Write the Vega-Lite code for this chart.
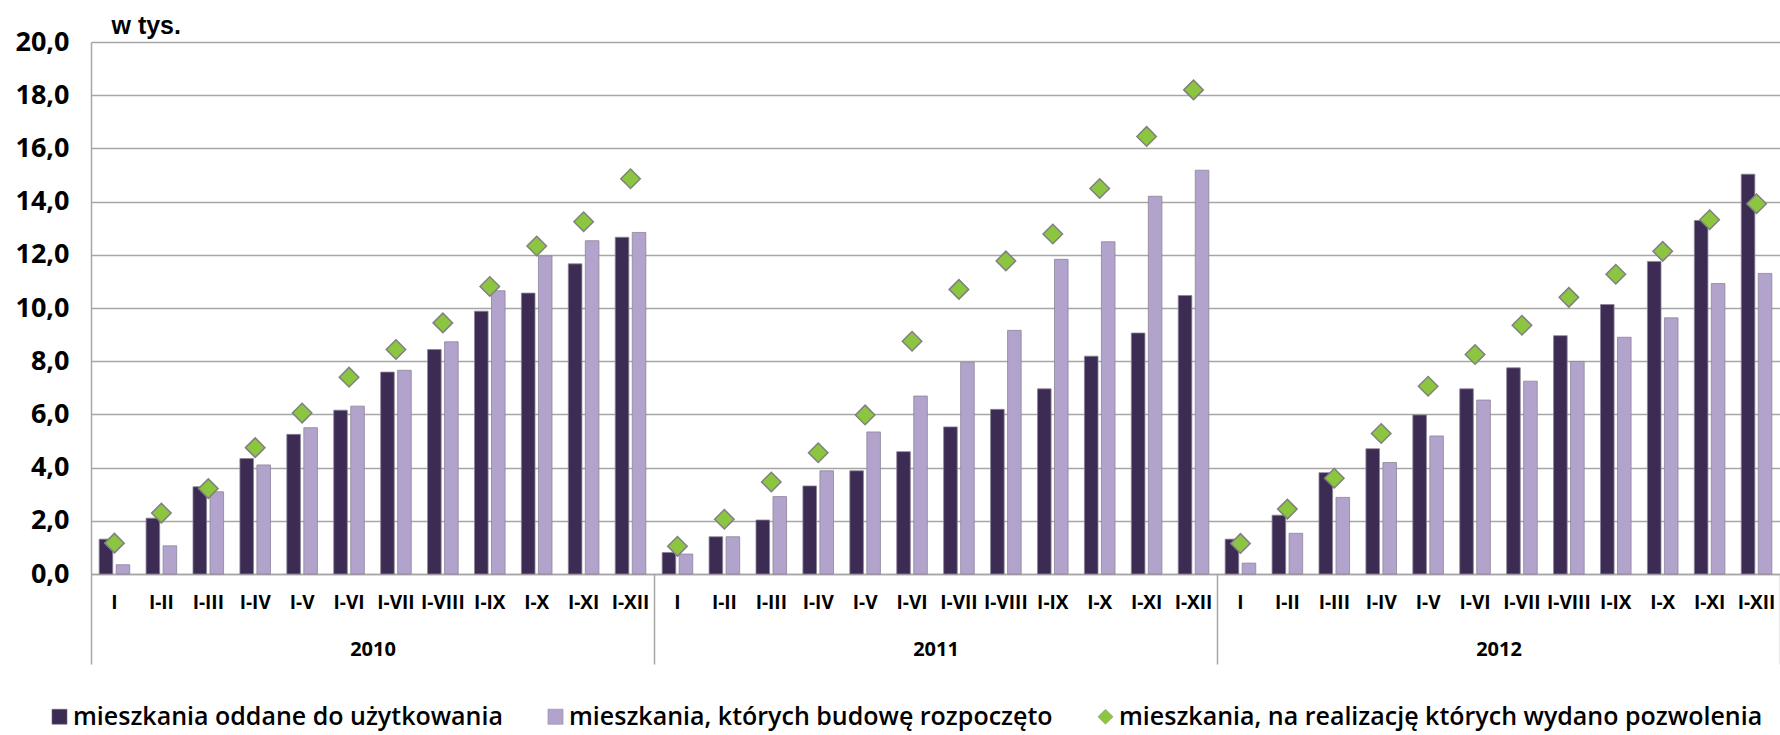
{
  "$schema": "https://vega.github.io/schema/vega-lite/v6.json",
  "width": 1689,
  "height": 532,
  "autosize": {"type": "none"},
  "padding": {"left": 91, "top": 42, "right": 0, "bottom": 161},
  "background": "white",
  "config": {"view": {"stroke": null}, "font": "Open Sans"},
  "datasets": {
    "main": [
      {"rok": "2010", "okres": "2010 I", "oddane": 1.31, "rozpoczete": 0.35, "pozwolenia": 1.16},
      {"rok": "2010", "okres": "2010 I-II", "oddane": 2.10, "rozpoczete": 1.06, "pozwolenia": 2.29},
      {"rok": "2010", "okres": "2010 I-III", "oddane": 3.28, "rozpoczete": 3.09, "pozwolenia": 3.21},
      {"rok": "2010", "okres": "2010 I-IV", "oddane": 4.34, "rozpoczete": 4.10, "pozwolenia": 4.75},
      {"rok": "2010", "okres": "2010 I-V", "oddane": 5.25, "rozpoczete": 5.50, "pozwolenia": 6.05},
      {"rok": "2010", "okres": "2010 I-VI", "oddane": 6.16, "rozpoczete": 6.31, "pozwolenia": 7.40},
      {"rok": "2010", "okres": "2010 I-VII", "oddane": 7.59, "rozpoczete": 7.66, "pozwolenia": 8.44},
      {"rok": "2010", "okres": "2010 I-VIII", "oddane": 8.44, "rozpoczete": 8.73, "pozwolenia": 9.44},
      {"rok": "2010", "okres": "2010 I-IX", "oddane": 9.88, "rozpoczete": 10.65, "pozwolenia": 10.81},
      {"rok": "2010", "okres": "2010 I-X", "oddane": 10.56, "rozpoczete": 11.96, "pozwolenia": 12.33},
      {"rok": "2010", "okres": "2010 I-XI", "oddane": 11.66, "rozpoczete": 12.53, "pozwolenia": 13.24},
      {"rok": "2010", "okres": "2010 I-XII", "oddane": 12.66, "rozpoczete": 12.84, "pozwolenia": 14.86},
      {"rok": "2011", "okres": "2011 I", "oddane": 0.81, "rozpoczete": 0.75, "pozwolenia": 1.04},
      {"rok": "2011", "okres": "2011 I-II", "oddane": 1.40, "rozpoczete": 1.40, "pozwolenia": 2.06},
      {"rok": "2011", "okres": "2011 I-III", "oddane": 2.03, "rozpoczete": 2.91, "pozwolenia": 3.46},
      {"rok": "2011", "okres": "2011 I-IV", "oddane": 3.31, "rozpoczete": 3.88, "pozwolenia": 4.56},
      {"rok": "2011", "okres": "2011 I-V", "oddane": 3.88, "rozpoczete": 5.34, "pozwolenia": 5.98},
      {"rok": "2011", "okres": "2011 I-VI", "oddane": 4.60, "rozpoczete": 6.69, "pozwolenia": 8.75},
      {"rok": "2011", "okres": "2011 I-VII", "oddane": 5.53, "rozpoczete": 7.96, "pozwolenia": 10.70},
      {"rok": "2011", "okres": "2011 I-VIII", "oddane": 6.19, "rozpoczete": 9.16, "pozwolenia": 11.77},
      {"rok": "2011", "okres": "2011 I-IX", "oddane": 6.96, "rozpoczete": 11.83, "pozwolenia": 12.78},
      {"rok": "2011", "okres": "2011 I-X", "oddane": 8.19, "rozpoczete": 12.49, "pozwolenia": 14.49},
      {"rok": "2011", "okres": "2011 I-XI", "oddane": 9.06, "rozpoczete": 14.20, "pozwolenia": 16.45},
      {"rok": "2011", "okres": "2011 I-XII", "oddane": 10.47, "rozpoczete": 15.18, "pozwolenia": 18.20},
      {"rok": "2012", "okres": "2012 I", "oddane": 1.31, "rozpoczete": 0.41, "pozwolenia": 1.15},
      {"rok": "2012", "okres": "2012 I-II", "oddane": 2.21, "rozpoczete": 1.53, "pozwolenia": 2.44},
      {"rok": "2012", "okres": "2012 I-III", "oddane": 3.81, "rozpoczete": 2.88, "pozwolenia": 3.60},
      {"rok": "2012", "okres": "2012 I-IV", "oddane": 4.71, "rozpoczete": 4.19, "pozwolenia": 5.28},
      {"rok": "2012", "okres": "2012 I-V", "oddane": 5.98, "rozpoczete": 5.19, "pozwolenia": 7.06},
      {"rok": "2012", "okres": "2012 I-VI", "oddane": 6.96, "rozpoczete": 6.54, "pozwolenia": 8.25},
      {"rok": "2012", "okres": "2012 I-VII", "oddane": 7.75, "rozpoczete": 7.25, "pozwolenia": 9.35},
      {"rok": "2012", "okres": "2012 I-VIII", "oddane": 8.96, "rozpoczete": 7.99, "pozwolenia": 10.40},
      {"rok": "2012", "okres": "2012 I-IX", "oddane": 10.13, "rozpoczete": 8.90, "pozwolenia": 11.27},
      {"rok": "2012", "okres": "2012 I-X", "oddane": 11.75, "rozpoczete": 9.63, "pozwolenia": 12.13},
      {"rok": "2012", "okres": "2012 I-XI", "oddane": 13.29, "rozpoczete": 10.92, "pozwolenia": 13.32},
      {"rok": "2012", "okres": "2012 I-XII", "oddane": 15.03, "rozpoczete": 11.30, "pozwolenia": 13.92}
    ],
    "years": [{"rok": "2010"}, {"rok": "2011"}, {"rok": "2012"}]
  },
  "layer": [
    {
      "data": {"name": "main"},
      "transform": [{"fold": ["oddane", "rozpoczete", "pozwolenia"], "as": ["seria", "wartosc"]}],
      "encoding": {
        "x": {
          "field": "okres",
          "type": "nominal",
          "sort": null,
          "scale": {"paddingInner": 0, "paddingOuter": 0},
          "axis": {
            "title": null,
            "labelExpr": "split(datum.value, ' ')[1]",
            "labelAngle": 0,
            "ticks": false,
            "domain": true,
            "domainColor": "#A6A6A6",
            "domainWidth": 1.5,
            "labelPadding": 19,
            "labelFont": "Open Sans",
            "labelFontSize": 19,
            "labelFontWeight": "bold",
            "labelColor": "#000000",
            "labelOverlap": false,
            "grid": false
          }
        },
        "y": {
          "field": "wartosc",
          "type": "quantitative",
          "scale": {"domain": [0, 20], "nice": false},
          "axis": {
            "title": "w tys.",
            "titleAngle": 0,
            "titleX": 20,
            "titleY": -17,
            "titleAlign": "left",
            "titleBaseline": "middle",
            "titleFont": "Liberation Sans",
            "titleFontSize": 25,
            "titleFontWeight": "bold",
            "titleColor": "#000000",
            "values": [0, 2, 4, 6, 8, 10, 12, 14, 16, 18, 20],
            "labelExpr": "replace(format(datum.value, '.1f'), '.', ',')",
            "labelFont": "Open Sans",
            "labelFontSize": 27,
            "labelFontWeight": "bold",
            "labelColor": "#000000",
            "labelPadding": 22,
            "ticks": false,
            "grid": true,
            "gridColor": "#A6A6A6",
            "gridWidth": 1.5,
            "domain": true,
            "domainColor": "#A6A6A6",
            "domainWidth": 1.5
          }
        }
      },
      "layer": [
        {
          "transform": [{"filter": "datum.seria !== 'pozwolenia'"}],
          "mark": {"type": "bar", "stroke": "#8E8499", "strokeWidth": 0.8},
          "encoding": {
            "xOffset": {
              "field": "seria",
              "type": "nominal",
              "sort": ["oddane", "rozpoczete"],
              "scale": {"paddingInner": 0.2, "paddingOuter": 0.48}
            },
            "color": {
              "field": "seria",
              "type": "nominal",
              "scale": {
                "domain": ["oddane", "rozpoczete", "pozwolenia"],
                "range": ["#3C2B52", "#B1A3CB", "#8CC540"]
              },
              "legend": {
                "title": null,
                "orient": "none",
                "legendX": -44,
                "legendY": 662,
                "direction": "horizontal",
                "columns": 3,
                "labelExpr": "datum.value == 'oddane' ? 'mieszkania oddane do użytkowania' : datum.value == 'rozpoczete' ? 'mieszkania, których budowę rozpoczęto' : 'mieszkania, na realizację których wydano pozwolenia'",
                "labelFont": "Open Sans",
                "labelFontSize": 25,
                "labelFontWeight": 600,
                "labelColor": "#000000",
                "labelLimit": 1000,
                "labelOffset": 1,
                "columnPadding": 40,
                "symbolSize": 230,
                "symbolStrokeWidth": 0.5
              }
            }
          }
        },
        {
          "transform": [{"filter": "datum.seria === 'pozwolenia'"}],
          "mark": {"type": "point", "filled": true, "size": 380, "stroke": "#808080", "strokeWidth": 1.5, "opacity": 1},
          "encoding": {
            "color": {
              "field": "seria",
              "type": "nominal",
              "scale": {
                "domain": ["oddane", "rozpoczete", "pozwolenia"],
                "range": ["#3C2B52", "#B1A3CB", "#8CC540"]
              },
              "legend": {"title": null}
            },
            "shape": {
              "field": "seria",
              "type": "nominal",
              "scale": {
                "domain": ["oddane", "rozpoczete", "pozwolenia"],
                "range": ["square", "square", "diamond"]
              },
              "legend": {"title": null}
            }
          }
        }
      ]
    },
    {
      "data": {"name": "years"},
      "mark": {"type": "tick", "opacity": 0},
      "encoding": {
        "x": {
          "field": "rok",
          "type": "nominal",
          "scale": {"paddingInner": 0, "paddingOuter": 0},
          "axis": {
            "title": null,
            "orient": "bottom",
            "tickBand": "extent",
            "ticks": true,
            "tickSize": 90,
            "tickColor": "#A6A6A6",
            "tickWidth": 1.5,
            "domain": false,
            "grid": false,
            "labelPadding": -25,
            "labelAngle": 0,
            "labelFont": "Open Sans",
            "labelFontSize": 20,
            "labelFontWeight": "bold",
            "labelColor": "#000000"
          }
        }
      }
    }
  ],
  "resolve": {"scale": {"x": "independent"}, "axis": {"x": "independent"}}
}
